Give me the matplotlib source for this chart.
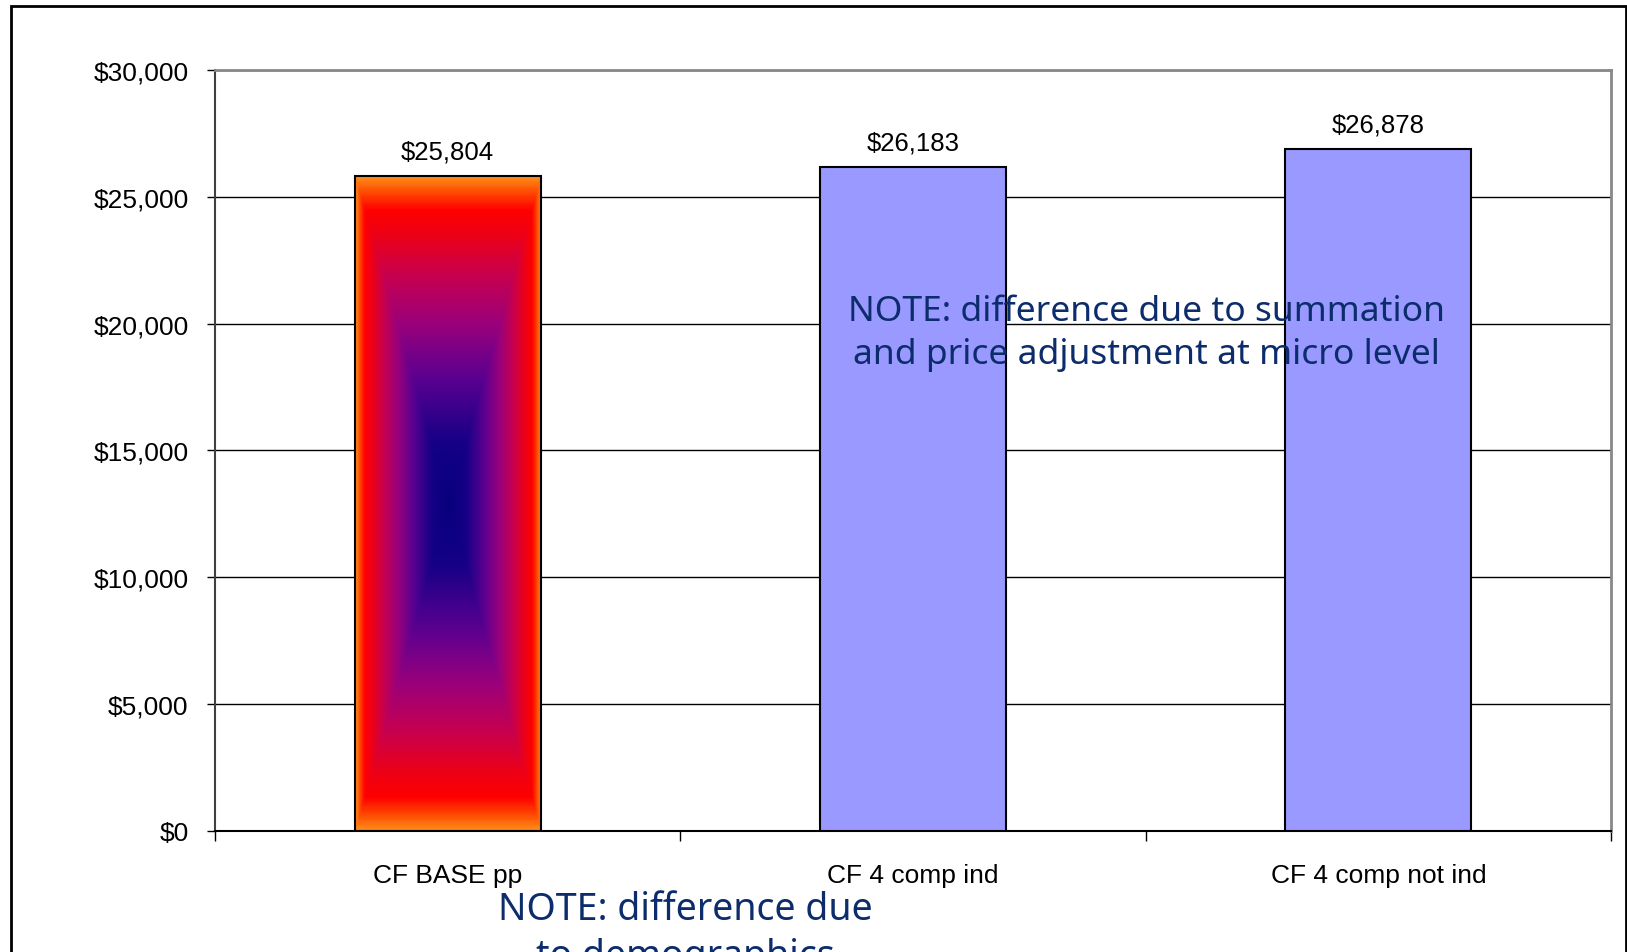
import numpy as np
import matplotlib.pyplot as plt
from matplotlib.colors import LinearSegmentedColormap
from matplotlib.patches import Rectangle
from matplotlib.ticker import StrMethodFormatter

categories = ["CF BASE pp", "CF 4 comp ind", "CF 4 comp not ind"]
costs = [25804, 26183, 26878]
y_ticks = [0, 5000, 10000, 15000, 20000, 25000, 30000]

note_top = "NOTE: difference due to summation\nand price adjustment at micro level"
note_bottom = "NOTE: difference due\nto demographics"

plt.rcParams["font.family"] = ["Liberation Sans", "DejaVu Sans"]

fig = plt.figure(figsize=(16.27, 9.53), dpi=100)
ax = fig.add_axes([0.1321, 0.127, 0.8581, 0.7985])

x = np.arange(len(categories))
bars = ax.bar(x, costs, width=0.4, color="#9999ff", edgecolor="black",
              linewidth=1.5, zorder=3)

# "fire" fill on the base bar: navy centre out to an orange rim
fire = LinearSegmentedColormap.from_list("fire", [
    (0.00, "#08007e"), (0.18, "#140086"), (0.38, "#5a0090"),
    (0.55, "#9a007c"), (0.70, "#c8004e"), (0.82, "#ec0018"),
    (0.90, "#ff0000"), (0.95, "#ff4400"), (1.00, "#ff8c1a")])
b = bars[0]
b.set_facecolor("none")
u = np.linspace(-1, 1, 200)
v = np.linspace(-1, 1, 600)
uu, vv = np.meshgrid(u, v)
t = np.maximum(np.abs(uu), np.abs(vv))
img = ax.imshow(t, cmap=fire, vmin=0, vmax=1, aspect="auto", zorder=2,
                interpolation="bilinear",
                extent=[b.get_x(), b.get_x() + b.get_width(), 0, b.get_height()])
img.set_clip_path(b)

for xi, val in zip(x, costs):
    ax.annotate(f"${val:,}", (xi, val), xytext=(0, 9), textcoords="offset points",
                ha="center", va="bottom", fontsize=18.5)

ax.set_xlim(-0.5, len(categories) - 0.5)
ax.set_ylim(0, 30000)
ax.set_yticks(y_ticks)
ax.yaxis.set_major_formatter(StrMethodFormatter("${x:,.0f}"))
ax.tick_params(axis="y", labelsize=19, length=6, width=1, pad=13)

# ticks sit between categories, labels under the bars
ax.set_xticks(np.arange(len(categories) + 1) - 0.5)
ax.set_xticklabels([])
ax.set_xticks(x, minor=True)
ax.set_xticklabels(categories, minor=True, fontsize=19)
ax.tick_params(axis="x", which="major", length=7, width=1)
ax.tick_params(axis="x", which="minor", length=0, pad=23)

ax.yaxis.grid(True, color="black", linewidth=1)
ax.set_axisbelow(True)
ax.spines["top"].set_color("#888888")
ax.spines["right"].set_color("#888888")
ax.spines["top"].set_linewidth(2)
ax.spines["right"].set_linewidth(2)
ax.spines["left"].set_color("#404040")
ax.spines["left"].set_linewidth(1.5)
ax.spines["bottom"].set_linewidth(1.5)

fig.text(0.7045, 0.650, note_top, ha="center", va="center", fontsize=25.5,
         color="#0c2c6c", family=["Noto Sans", "DejaVu Sans"], linespacing=1.36,
         zorder=5)
fig.text(0.421, 0.0205, note_bottom, ha="center", va="center", fontsize=27,
         color="#0c2c6c", family=["Noto Sans", "DejaVu Sans"], linespacing=1.28)

# chart border, its bottom edge runs off the canvas
fig.patches.append(Rectangle((11 / 1627, -0.1), (1626 - 11) / 1627, 1.1 - 7 / 953,
                             transform=fig.transFigure, fill=False,
                             edgecolor="black", linewidth=2))

fig.savefig("out.png", dpi=100)
